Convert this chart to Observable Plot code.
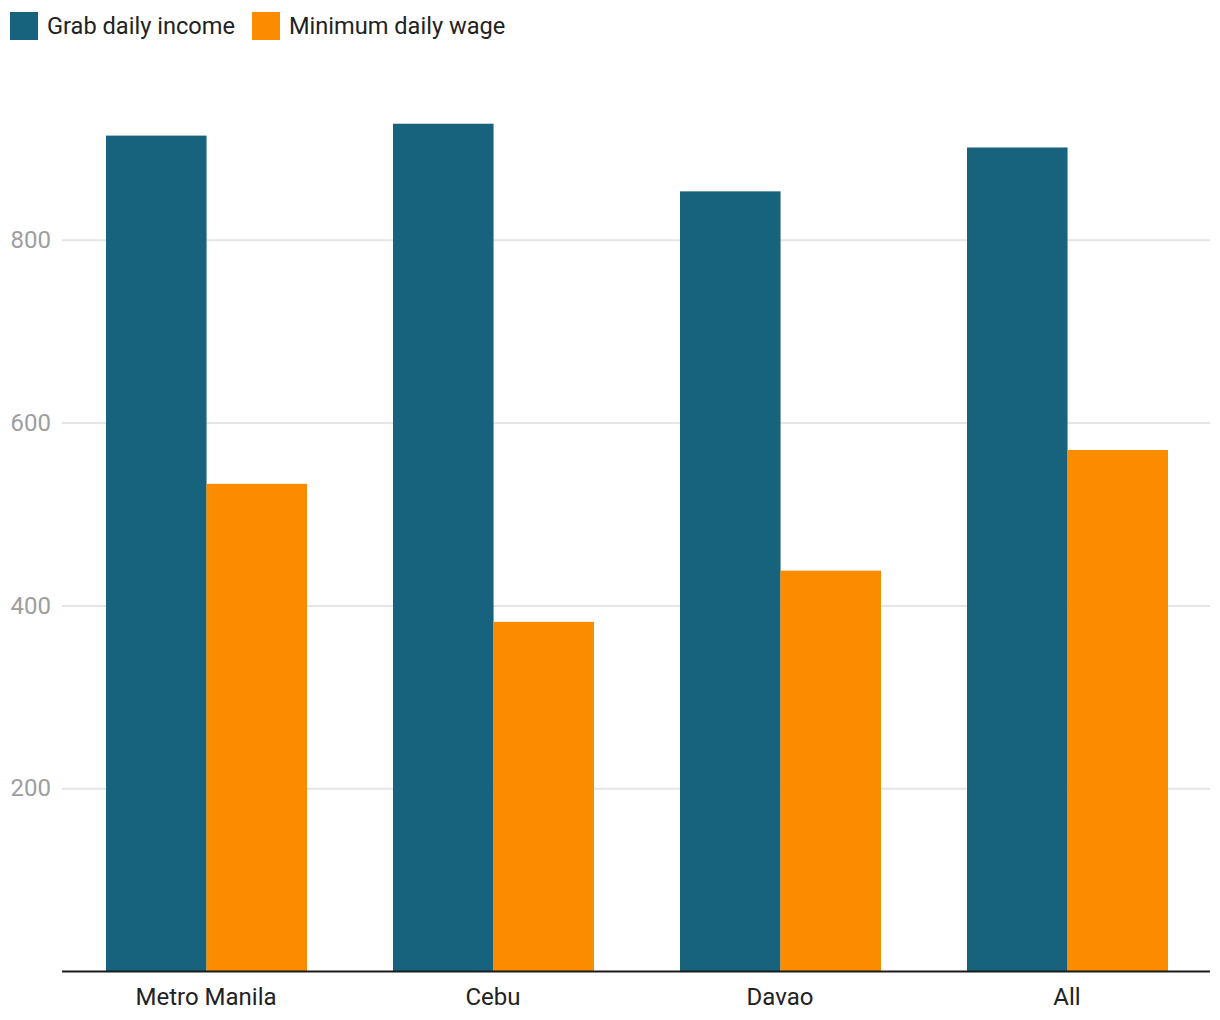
<!DOCTYPE html>
<html>
<head>
<meta charset="utf-8">
<script src="https://cdn.jsdelivr.net/npm/d3@7"></script>
<script src="https://cdn.jsdelivr.net/npm/@observablehq/plot@0.6"></script>
<style>
  html, body { margin: 0; padding: 0; background: #fff; }
  body { width: 1220px; font-family: Roboto, sans-serif; }
  #legend { height: 50px; box-sizing: border-box; padding: 12px 0 0 10px; display: flex; align-items: flex-start; font-size: 23.6px; color: #222; }
  #legend .item { display: flex; align-items: center; margin-right: 17px; height: 28px; }
  #legend .sw { width: 28px; height: 28px; margin-right: 9px; }
</style>
</head>
<body>
<div id="legend"></div>
<div id="chart"></div>
<script>
const cities = ["Metro Manila", "Cebu", "Davao", "All"];
const grabIncome = [914, 927, 853, 901];
const minWage = [533, 382, 438, 570];
const seriesNames = ["Grab daily income", "Minimum daily wage"];
const seriesColors = ["#17627c", "#fb8c00"];
const yTicks = [200, 400, 600, 800];

const grabData = cities.map((c, i) => ({city: c, series: seriesNames[0], value: grabIncome[i]}));
const wageData = cities.map((c, i) => ({city: c, series: seriesNames[1], value: minWage[i]}));

// legend
const legend = document.getElementById("legend");
seriesNames.forEach((s, i) => {
  const item = document.createElement("div");
  item.className = "item";
  const sw = document.createElement("div");
  sw.className = "sw";
  sw.style.background = seriesColors[i];
  const t = document.createElement("span");
  t.textContent = s;
  item.appendChild(sw);
  item.appendChild(t);
  legend.appendChild(item);
});

const W = 1220, mL = 62, mR = 10;
const pInner = 0.3, pOuter = 0.15;
const step = (W - mL - mR) / (cities.length - pInner + 2 * pOuter);
const half = step * (1 - pInner) / 2;

const chart = Plot.plot({
  width: W,
  height: 970,
  marginTop: 7,
  marginBottom: 49,
  marginLeft: mL,
  marginRight: mR,
  style: {fontFamily: "Roboto, sans-serif", background: "#fff", color: "#222", overflow: "visible"},
  x: {domain: cities, paddingInner: pInner, paddingOuter: pOuter, axis: null},
  y: {domain: [0, 1000], axis: null},
  color: {domain: seriesNames, range: seriesColors},
  marks: [
    Plot.gridY(yTicks, {stroke: "#e5e5e5", strokeOpacity: 1, strokeWidth: 2}),
    Plot.barY(grabData, {x: "city", y: "value", fill: "series", insetRight: half, insetLeft: 0, dx: 1}),
    Plot.barY(wageData, {x: "city", y: "value", fill: "series", insetLeft: half, insetRight: 0, dx: 1}),
    Plot.ruleY([0], {stroke: "#1a1a1a", strokeWidth: 2}),
    Plot.axisX({tickSize: 0, tickPadding: 16, fontSize: 24, fill: "#222", label: null}),
    Plot.axisY({ticks: yTicks, tickSize: 0, tickPadding: 52, textAnchor: "start", fontSize: 24, fill: "#9e9e9e", label: null, tickFormat: d => String(d)})
  ]
});
document.getElementById("chart").appendChild(chart);
</script>
</body>
</html>
